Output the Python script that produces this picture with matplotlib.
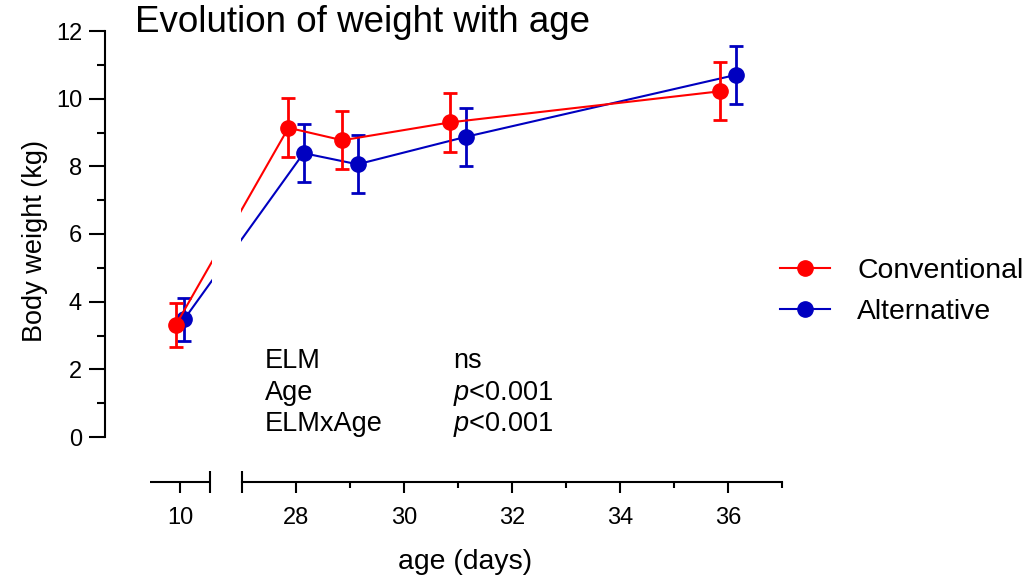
import numpy as np
import matplotlib.pyplot as plt
from matplotlib.lines import Line2D
from matplotlib.transforms import blended_transform_factory

plt.rcParams['font.family'] = ['Liberation Sans', 'DejaVu Sans']
plt.rcParams['mathtext.fontset'] = 'custom'
plt.rcParams['mathtext.rm'] = 'Liberation Sans'
plt.rcParams['mathtext.it'] = 'Liberation Sans:italic'

# -------- DATA --------
ages = [10, 28, 29, 31, 36]
dodge = 0.14

conv_mean = [3.31, 9.14, 8.77, 9.30, 10.22]
conv_err = [0.65, 0.87, 0.86, 0.87, 0.86]
alt_mean = [3.48, 8.39, 8.06, 8.87, 10.70]
alt_err = [0.64, 0.86, 0.86, 0.86, 0.87]

x_major = [10, 28, 30, 32, 34, 36]
x_minor = [29, 31, 33, 35, 37]

stats_terms = ["ELM", "Age", "ELMxAge"]
stats_vals = ["ns", "$p$<0.001", "$p$<0.001"]

RED = "#FF0000"
BLUE = "#0000C0"


# -------- BROKEN X SCALE (9-11 | 27-37) --------
def fwd(x):
    x = np.asarray(x, dtype=float)
    return np.where(x <= 11, (x - 9) * 30,
                    np.where(x >= 27, 92 + (x - 27) * 54, 60 + (x - 11) * 2))


def inv(u):
    u = np.asarray(u, dtype=float)
    return np.where(u <= 60, 9 + u / 30,
                    np.where(u >= 92, 27 + (u - 92) / 54, 11 + (u - 60) / 2))


W, H = 1030, 581
fig = plt.figure(figsize=(W / 100, H / 100), dpi=100)
ax = fig.add_axes([105 / W, 144 / H, 677 / W, 406 / H])
ax.set_xscale('function', functions=(fwd, inv))
ax.set_xlim(7.5, 37)
ax.set_ylim(0, 12)

ages = np.array(ages, dtype=float)
x_conv = ages - dodge
x_alt = ages + dodge

# series
ax.errorbar(x_alt, alt_mean, yerr=alt_err, fmt='none', ecolor=BLUE,
            elinewidth=2, capsize=5, capthick=2, zorder=2, clip_on=False)
ax.plot(x_alt, alt_mean, color=BLUE, lw=1.5, marker='o', ms=11, zorder=2.5,
        clip_on=False)
ax.errorbar(x_conv, conv_mean, yerr=conv_err, fmt='none', ecolor=RED,
            elinewidth=2, capsize=5, capthick=2, zorder=3, clip_on=False)
ax.plot(x_conv, conv_mean, color=RED, lw=1.5, marker='o', ms=11, zorder=3.5,
        clip_on=False)

# white gap where the axis is broken
ax.axvspan(11.85, 26.5, color='white', zorder=5, lw=0)

# -------- AXES STYLE --------
for s in ['top', 'right']:
    ax.spines[s].set_visible(False)
ax.spines['left'].set_linewidth(1.5)
ax.spines['bottom'].set_linewidth(1.5)
ax.spines['bottom'].set_position(('outward', 32.2))
ax.spines['bottom'].set_bounds(27, 37)

ax.set_yticks(range(0, 13, 2))
ax.set_yticks(range(1, 12, 2), minor=True)
ax.set_xticks(x_major)
ax.set_xticklabels([str(v) for v in x_major])
ax.set_xticks(x_minor, minor=True)
ax.xaxis.set_minor_formatter(plt.NullFormatter())

ax.tick_params(axis='y', which='major', length=11.5, width=1.5, pad=5, labelsize=17)
ax.tick_params(axis='y', which='minor', length=6, width=1.5)
ax.tick_params(axis='x', which='major', length=8, width=1.5, pad=10, labelsize=17)
ax.tick_params(axis='x', which='minor', length=4.5, width=1.5)

# left piece of the x axis and break marks
trans = blended_transform_factory(ax.transData, fig.dpi_scale_trans)
ax.plot([9, 11], [0.993, 0.993], color='black', lw=1.5, transform=trans,
        clip_on=False, solid_capstyle='butt')
for xb in [11, 27]:
    ax.plot([xb, xb], [0.883, 1.103], color='black', lw=1.5, transform=trans,
            clip_on=False, solid_capstyle='butt')

# -------- TEXT --------
fig.text(135 / W, 1 - 32 / H, "Evolution of weight with age", fontsize=26.5,
         va='baseline', ha='left')
fig.text(35 / W, 1 - 241 / H, "Body weight (kg)", fontsize=19.5, rotation=90,
         ha='center', va='center')
fig.text(465 / W, 1 - 569 / H, "age (days)", fontsize=20.4, ha='center',
         va='baseline')

for i, (term, val) in enumerate(zip(stats_terms, stats_vals)):
    yb = 1 - (368 + i * 31.5) / H
    fig.text(265 / W, yb, term, fontsize=19.5, va='baseline')
    fig.text(453 / W, yb, val, fontsize=19.5, va='baseline')

handles = [Line2D([], [], color=RED, lw=1.5, marker='o', ms=11),
           Line2D([], [], color=BLUE, lw=1.5, marker='o', ms=11)]
fig.legend(handles, ["Conventional", "Alternative"], loc='center left',
           bbox_to_anchor=(780 / W, 1 - 291.5 / H), frameon=False,
           fontsize=20.4, handlelength=1.77, handletextpad=0.95,
           labelspacing=0.5, borderpad=0, borderaxespad=0, numpoints=1)

fig.savefig("out.png", dpi=100)
